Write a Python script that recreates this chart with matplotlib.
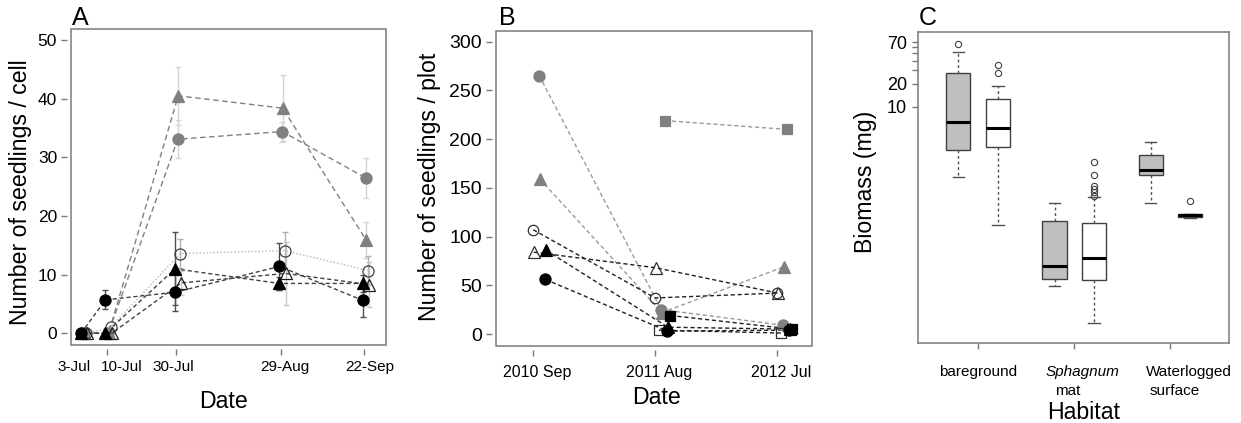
import matplotlib
matplotlib.use('Agg')
import matplotlib.pyplot as plt
from matplotlib.patches import Rectangle
import numpy as np

plt.rcParams['font.family'] = ['Liberation Sans', 'DejaVu Sans']

# ---------------- Panel A data ----------------
a_dates = ['3-Jul', '10-Jul', '30-Jul', '29-Aug', '22-Sep']
a_days = [0, 7, 27, 57, 81]
a_gray_tri = [0, 0, 40.5, 38.4, 15.9]
a_gray_tri_err = [0, 0, 5.0, 5.6, 3.0]
a_gray_circ = [0, 0, 33.1, 34.4, 26.5]
a_gray_circ_err = [0, 0, 3.2, 1.7, 3.4]
a_open_circ = [0, 1.0, 13.6, 14.1, 10.7]
a_open_circ_err = [0, 0.3, 2.4, 3.1, 2.4]
a_black_tri = [0, 0, 11.0, 8.5, 8.5]
a_black_tri_err = [0, 0, 6.2, 1.1, 1.5]
a_open_tri = [0, 0, 8.6, 10.2, 8.3]
a_open_tri_err = [0, 0, 2.0, 5.4, 3.9]
a_black_circ = [0, 5.7, 7.0, 11.4, 5.6]
a_black_circ_err = [0, 1.6, 3.2, 4.0, 2.9]

# ---------------- Panel B data ----------------
b_dates = ['2010 Sep', '2011 Aug', '2012 Jul']
b_gray_circ = [265, 25, 9]
b_gray_tri = [159, 22, 69]
b_gray_sq = [np.nan, 219, 210]
b_open_circ = [107, 37, 42]
b_open_tri = [84, 68, 42]
b_black_tri = [86, 7, 5]
b_black_circ = [56, 3, 4]
b_black_sq = [np.nan, 19, 5]
b_open_sq = [np.nan, 4, 1]

# ---------------- Panel C data ----------------
c_habitats = ['bareground', 'Sphagnum mat', 'Waterlogged surface']
c_gray_whislo = [1.2, 0.0454, 0.553]
c_gray_q1 = [2.76, 0.0555, 1.29]
c_gray_med = [6.4, 0.0822, 1.47]
c_gray_q3 = [27.6, 0.322, 2.35]
c_gray_whishi = [52, 0.548, 3.5]
c_gray_fliers = [[66], [], []]
c_white_whislo = [0.282, 0.0147, 0.355]
c_white_q1 = [2.99, 0.0538, 0.363]
c_white_med = [5.36, 0.105, 0.385]
c_white_q3 = [12.6, 0.30, 0.40]
c_white_whishi = [18.8, 0.66, 0.40]
c_white_fliers = [[28.1, 35.4], [0.684, 0.772, 0.845, 0.925, 1.29, 1.92], [0.594]]

W, H = 1241, 423
fig = plt.figure(figsize=(W / 100, H / 100), dpi=100)


def px_axes(l, t, r, b):
    return fig.add_axes([l / W, 1 - b / H, (r - l) / W, (b - t) / H])


BOX = '#7a7a7a'


def r_style(ax, gap=3, labelsize=12.5):
    for s in ax.spines.values():
        s.set_visible(False)
    ax.spines['left'].set_position(('outward', gap))
    ax.spines['bottom'].set_position(('outward', gap))
    ax.add_patch(Rectangle((0, 0), 1, 1, transform=ax.transAxes, fill=False,
                           ec=BOX, lw=1.1, clip_on=False, zorder=10))
    ax.tick_params(color=BOX, length=4, width=1, labelsize=labelsize, pad=3)


# ================= Panel A =================
axA = px_axes(71, 29, 386, 345)
r_style(axA)
axA.set_xlim(-3.2, 87.3)
axA.set_ylim(-2.0, 51.9)
axA.set_yticks([0, 10, 20, 30, 40, 50])
axA.set_xticks(a_days[1:])
axA.set_xticklabels([])

GRAY = '#808080'
a_series = [
    # values, errs, marker, face, edge, line color, dashes, err color, jitter, size
    (a_gray_tri, a_gray_tri_err, '^', GRAY, GRAY, '#808080', (4, 2.5), '#d4d4d4', 0.6, 8.5),
    (a_gray_circ, a_gray_circ_err, 'o', GRAY, GRAY, '#808080', (4, 2.5), '#d4d4d4', 0.5, 8.0),
    (a_open_circ, a_open_circ_err, 'o', 'none', '#404040', '#b5b5b5', (1, 1.5), '#b0b0b0', 1.2, 8.0),
    (a_open_tri, a_open_tri_err, '^', 'none', '#202020', '#404040', (3, 2), '#c8c8c8', 1.5, 8.5),
    (a_black_tri, a_black_tri_err, '^', 'black', 'black', '#404040', (3, 2), '#505050', -0.3, 8.5),
    (a_black_circ, a_black_circ_err, 'o', 'black', 'black', '#404040', (3, 2), '#505050', -0.3, 8.0),
]
for vals, errs, mk, fc, ec, lc, dash, errc, jit, ms in a_series:
    x = np.array(a_days, dtype=float) + jit
    v = np.array(vals, dtype=float)
    e = np.array(errs, dtype=float)
    m = e > 0
    axA.errorbar(x[m], v[m], yerr=e[m], fmt='none', ecolor=errc, elinewidth=1,
                 capsize=2, capthick=1, zorder=2)
    axA.plot(x, v, color=lc, lw=1, dashes=dash, zorder=3)
    axA.plot(x, v, ls='none', marker=mk, ms=ms, mfc=fc, mec=ec, mew=0.9, zorder=4)

a_label_off = [-6, 11, -2, 3, 4]
for d, lab, off in zip(a_days, a_dates, a_label_off):
    axA.annotate(lab, xy=(d, 0), xycoords=('data', 'axes fraction'),
                 xytext=(off, -16), textcoords='offset points',
                 ha='center', va='center', fontsize=11)
axA.set_ylabel('Number of seedlings / cell', fontsize=16.7, ha='center', va='center')
axA.yaxis.set_label_coords(-0.159, 0.484)
axA.set_xlabel('Date', fontsize=16.7, va='center')
axA.xaxis.set_label_coords(0.483, -0.180)
fig.text(72 / W, 1 - 18 / H, 'A', fontsize=18, ha='left', va='center')

# ================= Panel B =================
axB = px_axes(496, 31, 812, 346)
r_style(axB, labelsize=14)
axB.set_xlim(-0.30, 2.29)
axB.set_ylim(-12.3, 311)
axB.set_yticks([0, 50, 100, 150, 200, 250, 300])
axB.set_xticks([0, 1, 2])
axB.set_xticklabels([])
b_x = np.array([0, 1, 2], dtype=float)
LG = '#9a9a9a'
b_series = [
    (b_gray_sq, 's', GRAY, GRAY, LG, 0.085, 7.0),
    (b_gray_circ, 'o', GRAY, GRAY, LG, 0.055, 8.0),
    (b_gray_tri, '^', GRAY, GRAY, LG, 0.06, 8.5),
    (b_open_circ, 'o', 'none', '#303030', '#202020', 0.005, 7.5),
    (b_open_tri, '^', 'none', '#303030', '#202020', 0.01, 8.5),
    (b_open_sq, 's', 'none', '#303030', '#202020', 0.035, 7.0),
    (b_black_tri, '^', 'black', 'black', '#202020', 0.11, 8.5),
    (b_black_circ, 'o', 'black', 'black', '#202020', 0.105, 8.0),
    (b_black_sq, 's', 'black', 'black', '#202020', 0.13, 7.0),
]
for vals, mk, fc, ec, lc, jit, ms in b_series:
    x = b_x + jit
    v = np.array(vals, dtype=float)
    axB.plot(x, v, color=lc, lw=1, dashes=(3, 2), zorder=3)
    axB.plot(x, v, ls='none', marker=mk, ms=ms, mfc=fc, mec=ec, mew=0.9, zorder=4)
for xi, lab in zip(b_x, b_dates):
    axB.annotate(lab, xy=(xi, 0), xycoords=('data', 'axes fraction'),
                 xytext=(3, -19), textcoords='offset points',
                 ha='center', va='center', fontsize=11.5)
axB.set_ylabel('Number of seedlings / plot', fontsize=16.7, ha='center', va='center')
axB.yaxis.set_label_coords(-0.209, 0.505)
axB.set_xlabel('Date', fontsize=16.7, va='center')
axB.xaxis.set_label_coords(0.509, -0.162)
fig.text(499 / W, 1 - 18 / H, 'B', fontsize=18, ha='left', va='center')

# ================= Panel C =================
axC = px_axes(918, 32, 1229, 343)
axC.set_yscale('log')
axC.set_xlim(0.375, 3.61)
axC.set_ylim(0.0081, 95.5)
for s in axC.spines.values():
    s.set_color(BOX)
    s.set_linewidth(1.1)
axC.tick_params(color=BOX, length=4, width=1, labelsize=13, pad=4)
axC.yaxis.set_minor_locator(matplotlib.ticker.NullLocator())
axC.set_yticks([10, 20, 30, 40, 50, 60, 70])
axC.set_yticklabels(['10', '20', '', '', '', '', '70'])
axC.set_xticks([1, 2, 3])
axC.set_xticklabels([])

cx = np.array([1, 2, 3], dtype=float)


def make_stats(lo, q1, med, q3, hi, fl):
    return [dict(whislo=a, q1=b, med=c, q3=d, whishi=e, fliers=f)
            for a, b, c, d, e, f in zip(lo, q1, med, q3, hi, fl)]


for stats, off, face in [
        (make_stats(c_gray_whislo, c_gray_q1, c_gray_med, c_gray_q3, c_gray_whishi, c_gray_fliers), -0.205, '#bfbfbf'),
        (make_stats(c_white_whislo, c_white_q1, c_white_med, c_white_q3, c_white_whishi, c_white_fliers), 0.205, 'white')]:
    axC.bxp(stats, positions=cx + off, widths=0.25, patch_artist=True,
            manage_ticks=False, capwidths=0.12,
            boxprops=dict(facecolor=face, edgecolor='#404040', lw=1),
            medianprops=dict(color='black', lw=2.2),
            whiskerprops=dict(color='#505050', lw=1, dashes=(2, 2)),
            capprops=dict(color='#505050', lw=1),
            flierprops=dict(marker='o', ms=4.5, mfc='none', mec='#404040', mew=0.8))

cat_lines = [[('bareground', 'normal', 0)],
             [('Sphagnum', 'italic', 6), ('mat', 'normal', -5)],
             [('Waterlogged', 'normal', 13), ('surface', 'normal', 3)]]
for xi, lines in zip(cx, cat_lines):
    for k, (txt, sty, off) in enumerate(lines):
        axC.annotate(txt, xy=(xi, 0), xycoords=('data', 'axes fraction'),
                     xytext=(off, -21 - 13.7 * k), textcoords='offset points',
                     ha='center', va='center', fontsize=11, style=sty)
axC.set_ylabel('Biomass (mg)', fontsize=16.7, ha='center', va='center')
axC.yaxis.set_label_coords(-0.170, 0.518)
axC.set_xlabel('Habitat', fontsize=16.7, va='center')
axC.xaxis.set_label_coords(0.531, -0.222)
fig.text(919 / W, 1 - 18 / H, 'C', fontsize=18, ha='left', va='center')

fig.savefig('out.png', dpi=100)
